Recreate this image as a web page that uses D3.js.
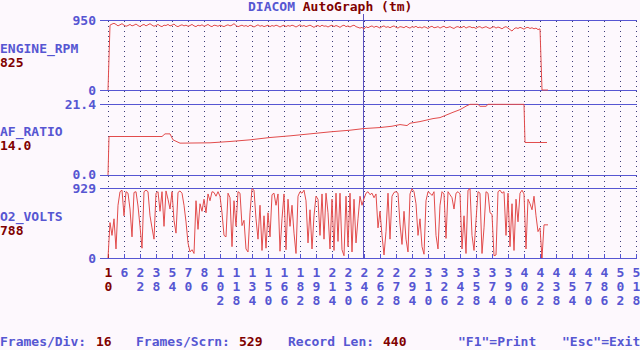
<!DOCTYPE html>
<html><head><meta charset="utf-8">
<script src="https://cdn.jsdelivr.net/npm/d3@7"></script>
<style>html,body{margin:0;padding:0;background:#fdf8fd;} svg{display:block;}</style>
</head><body><svg id="c" width="640" height="350"></svg>
<script>
// ---------------- data ----------------
const seriesNames = ["ENGINE_RPM", "AF_RATIO", "O2_VOLTS"];
const cursorValues = ["825", "14.0", "788"];
const axisTop = [950, 21.4, 929];
const axisTopLabels = ["950", "21.4", "929"];
const axisBottomLabels = ["0", "0.0", "0"];

const tickLabels = ["10","6","22","38","54","70","86","102","118","134","150","166","182","198",
  "214","230","246","262","278","294","310","326","342","358","374","390","406","422","438",
  "454","470","486","502","518"];

const framesPerDiv = 16, framesPerScreen = 529, recordLen = 440;
const cursorFrame = 256;
const sampleStep = 2; // frames between samples of rpm / o2

const rpm = [0,
  880,895,905,890,870,885,900,880,865,875,
  890,870,880,895,875,860,880,890,870,885,
  900,880,865,875,890,870,860,880,875,890,
  870,880,895,870,860,875,885,870,880,865,
  875,890,870,860,880,870,885,865,875,890,
  870,860,880,875,865,880,870,860,875,885,
  870,880,900,875,860,870,880,865,875,860,
  880,870,855,870,885,865,875,860,870,880,
  860,875,865,880,870,855,870,880,860,875,
  865,880,870,855,870,885,865,875,860,870,
  880,865,850,870,875,860,880,865,870,855,
  870,880,860,875,865,850,870,880,860,870,
  855,870,880,860,850,840,850,825,860,845,
  860,870,850,865,855,840,860,870,850,860,
  845,860,870,850,840,860,855,845,865,850,
  840,860,850,865,845,855,840,860,850,835,
  855,865,845,850,860,840,855,865,845,850,
  860,845,835,855,860,845,850,865,840,855,
  860,845,850,835,855,860,840,850,860,845,
  835,850,860,840,855,845,830,850,860,840,
  820,800,830,845,835,850,840,825,845,850,
  835,845,830,840,820,830,0,0,0,0];

const afFrames = [0,1,54,57,62,65,72,102,122,142,162,182,202,222,242,256,272,284,292,299,302,312,325,332,345,352,359,362,370,372,378,380,416,417,439];
const afValues = [0,11.6,11.6,12.4,12.4,10.6,9.6,9.7,10.1,10.6,11.3,11.8,12.4,13.0,13.5,14.0,14.3,14.7,15.2,14.9,15.6,16.1,17.0,17.3,18.9,19.7,20.9,21.3,21.3,20.7,20.7,21.3,21.3,9.8,9.8];

const o2 = [
  0,470,300,520,120,700,880,900,560,880,
  860,650,280,870,880,690,420,130,880,900,
  880,560,400,250,860,880,620,880,420,890,
  780,650,880,500,330,870,890,860,700,480,
  200,80,110,60,760,380,720,620,780,600,
  850,760,880,870,820,
  880,820,600,300,280,860,800,150,760,420,
  880,860,430,500,120,80,600,920,900,520,
  250,700,100,560,130,600,280,840,860,700,
  850,90,520,850,110,780,420,700,330,60,
  820,880,860,900,760,200,640,120,560,820,
  780,300,850,250,
  860,600,120,780,100,860,220,860,110,30,
  820,150,860,80,780,200,520,820,700,788,
  860,880,840,860,800,850,400,620,300,40,
  350,860,250,820,870,880,860,450,180,620,
  250,80,850,920,880,720,300,520,150,50,
  760,880,860,830,880,
  300,120,700,880,850,260,880,840,800,650,
  860,880,850,120,560,60,900,920,300,100,
  500,880,860,60,400,880,860,600,580,30,
  40,880,900,860,880,300,860,150,720,100,
  780,480,860,900,850,120,780,720,640,820,
  560,350,400,0,440,440,440];

// ---------------- drawing ----------------
const BLUE = "#5656d2", DRED = "#800000", LINE = "#e24c4c", GRID = "#3c3c78", BG = "#fdf8fd";
const FONT = "'DejaVu Sans Mono', 'Liberation Mono', monospace";

const svg = d3.select("#c");
svg.append("rect").attr("width", 640).attr("height", 350).attr("fill", BG);

const x = d3.scaleLinear().domain([0, framesPerScreen - 1]).range([108, 636]);
const panelRanges = [[90, 20], [175, 104], [258, 188]];
const ys = axisTop.map((t, i) => d3.scaleLinear().domain([0, t]).range(panelRanges[i]));

// vertical dotted grid
const tickFrames = tickLabels.map((d, i) => i * framesPerDiv);
svg.append("g").selectAll("line").data(tickFrames).join("line")
  .attr("x1", d => Math.round(x(d)) + 0.5).attr("x2", d => Math.round(x(d)) + 0.5)
  .attr("y1", 21).attr("y2", 258)
  .attr("stroke", GRID).attr("stroke-width", 1).attr("stroke-dasharray", "1,4");

// horizontal panel lines
ys.forEach(s => {
  s.range().forEach(yv => {
    svg.append("line").attr("x1", 100).attr("x2", 637)
      .attr("y1", yv + 0.5).attr("y2", yv + 0.5)
      .attr("stroke", BLUE).attr("stroke-width", 1.2);
  });
});

// cursor line
svg.append("line")
  .attr("x1", Math.round(x(cursorFrame)) - 0.5).attr("x2", Math.round(x(cursorFrame)) - 0.5)
  .attr("y1", 14).attr("y2", 258).attr("stroke", "#5a50c0").attr("stroke-width", 1);

// x ticks
svg.append("g").selectAll("line").data(tickFrames).join("line")
  .attr("x1", d => Math.round(x(d)) + 0.5).attr("x2", d => Math.round(x(d)) + 0.5)
  .attr("y1", 254).attr("y2", 258)
  .attr("stroke", (d, i) => i === 0 ? DRED : BLUE);
svg.append("line").attr("x1", Math.round(x(433)) + 0.5).attr("x2", Math.round(x(433)) + 0.5)
  .attr("y1", 254).attr("y2", 258).attr("stroke", "#d03030");

// tick labels (stacked digits)
const tl = svg.append("g").attr("font-family", FONT).attr("font-size", 13)
  .attr("font-weight", "bold").attr("text-anchor", "middle");
tickLabels.forEach((lab, i) => {
  lab.split("").forEach((ch, j) => {
    tl.append("text").attr("x", x(tickFrames[i]) + 0.5).attr("y", 276.5 + j * 14.3)
      .attr("fill", i === 0 ? DRED : BLUE).text(ch);
  });
});

// series lines
const lineRpm = d3.line().x((d, i) => x(i * sampleStep)).y(d => ys[0](d));
const lineO2 = d3.line().x((d, i) => x(i * sampleStep)).y(d => ys[2](d));
const lineAf = d3.line().x(d => x(d[0])).y(d => ys[1](d[1]));
svg.append("path").attr("d", lineRpm(rpm)).attr("fill", "none").attr("stroke", LINE).attr("stroke-width", 1);
svg.append("path").attr("d", lineAf(afFrames.map((f, i) => [f, afValues[i]]))).attr("fill", "none").attr("stroke", LINE).attr("stroke-width", 1);
svg.append("path").attr("d", lineO2(o2)).attr("fill", "none").attr("stroke", LINE).attr("stroke-width", 1);

// left labels
const lab = svg.append("g").attr("font-family", FONT).attr("font-size", 13).attr("font-weight", "bold");
const nameY = [52.5, 136, 221];
const topShift = [0, 0, 0.5], botShift = [0, -0.5, 0];
seriesNames.forEach((n, i) => {
  lab.append("text").attr("x", 0).attr("y", nameY[i]).attr("fill", BLUE).text(n);
  lab.append("text").attr("x", 0).attr("y", nameY[i] + 14).attr("fill", DRED).text(cursorValues[i]);
  lab.append("text").attr("x", 96).attr("y", ys[i].range()[1] + 4.5 + topShift[i]).attr("text-anchor", "end").attr("fill", BLUE).text(axisTopLabels[i]);
  lab.append("text").attr("x", 96).attr("y", ys[i].range()[0] + 4.5 + botShift[i]).attr("text-anchor", "end").attr("fill", BLUE).text(axisBottomLabels[i]);
});

// title
const title = svg.append("text").attr("x", 248).attr("y", 11).attr("font-family", FONT)
  .attr("font-size", 13).attr("font-weight", "bold");
title.append("tspan").attr("fill", BLUE).text("DIACOM ");
title.append("tspan").attr("fill", DRED).text("AutoGraph (tm)");

// bottom status
const status = [
  {t: "Frames/Div:", x: 0, c: BLUE}, {t: String(framesPerDiv), x: 96, c: DRED},
  {t: "Frames/Scrn:", x: 136, c: BLUE}, {t: String(framesPerScreen), x: 239, c: DRED},
  {t: "Record Len:", x: 288, c: BLUE}, {t: String(recordLen), x: 383, c: DRED},
  {t: "\"F1\"=Print", x: 458, c: BLUE}, {t: "\"Esc\"=Exit", x: 562, c: BLUE}
];
svg.append("g").attr("font-family", FONT).attr("font-size", 13).attr("font-weight", "bold")
  .selectAll("text").data(status).join("text")
  .attr("x", d => d.x).attr("y", 345.5).attr("fill", d => d.c).text(d => d.t);
</script></body></html>
